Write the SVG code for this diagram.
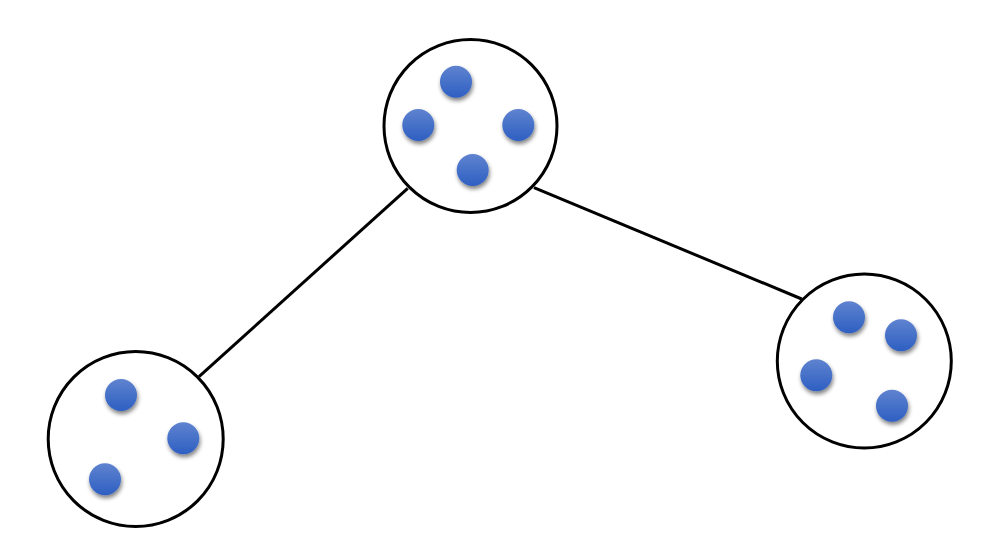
<svg xmlns="http://www.w3.org/2000/svg" width="1004" height="541" viewBox="0 0 1004 541">
<style>
.cl{fill:#ffffff;stroke:#000000;stroke-width:3}
.ln{stroke:#000000;stroke-width:3;fill:none}
.dot{fill:url(#g);filter:url(#sh)}
</style>
<defs>
<linearGradient id="g" x1="0" y1="0" x2="0" y2="1">
<stop offset="0" stop-color="#5f83cf"/>
<stop offset="1" stop-color="#2e5fc2"/>
</linearGradient>
<filter id="sh" x="-50%" y="-50%" width="200%" height="200%">
<feGaussianBlur in="SourceAlpha" stdDeviation="2"/>
<feOffset dx="1" dy="3" result="b"/>
<feComponentTransfer><feFuncA type="linear" slope="0.5"/></feComponentTransfer>
<feMerge><feMergeNode/><feMergeNode in="SourceGraphic"/></feMerge>
</filter>
</defs>
<rect width="1004" height="541" fill="#ffffff"/>
<g id="connectors">
<line class="ln" x1="407.7" y1="188.3" x2="199" y2="376.7"/>
<line class="ln" x1="534" y1="187.7" x2="801.7" y2="299"/>
</g>
<g id="node-top">
<circle class="cl" cx="470.5" cy="126" r="86.5"/>
<circle class="dot" cx="456" cy="81.7" r="16"/>
<circle class="dot" cx="418.3" cy="125" r="16"/>
<circle class="dot" cx="518.3" cy="125" r="16"/>
<circle class="dot" cx="472.7" cy="170" r="16"/>
</g>
<g id="node-right">
<circle class="cl" cx="864.3" cy="361" r="87"/>
<circle class="dot" cx="849" cy="317.3" r="16"/>
<circle class="dot" cx="901" cy="335.3" r="16"/>
<circle class="dot" cx="816.3" cy="375.3" r="16"/>
<circle class="dot" cx="892" cy="405.7" r="16"/>
</g>
<g id="node-left">
<circle class="cl" cx="135.7" cy="439" r="87.5"/>
<circle class="dot" cx="121" cy="395" r="16"/>
<circle class="dot" cx="183.3" cy="438.3" r="16"/>
<circle class="dot" cx="105" cy="479.3" r="16"/>
</g>
</svg>
